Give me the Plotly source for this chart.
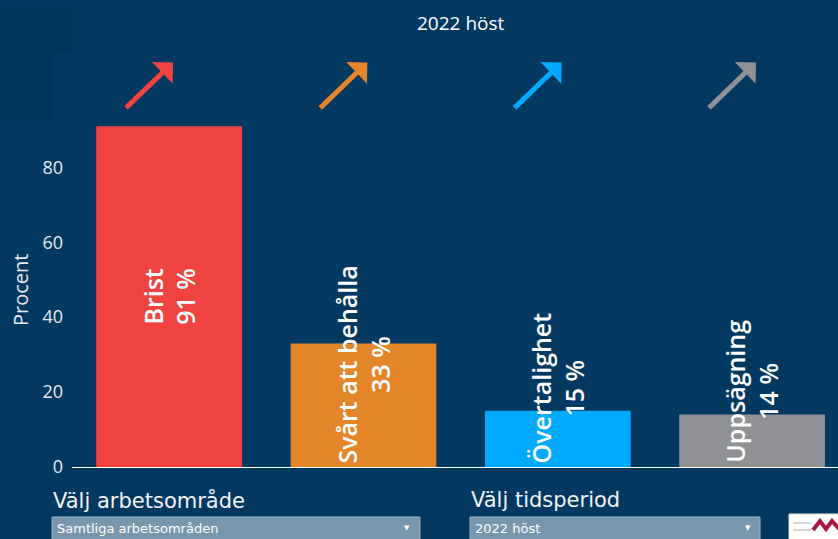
import plotly.graph_objects as go

categories = ["Brist", "Svårt att behålla", "Övertalighet", "Uppsägning"]
values = [91, 33, 15, 14]
value_labels = ["91 %", "33 %", "15 %", "14 %"]
colors = ["#EE4340", "#E5852A", "#00AAFF", "#8F9194"]
y_ticks = [0, 20, 40, 60, 80]
y_title = "Procent"
period = "2022 höst"
area_label = "Välj arbetsområde"
area_value = "Samtliga arbetsområden"
period_label = "Välj tidsperiod"

BG = "#033861"
W, H = 838, 539
ML, MR, MT, MB = 72, 0, 55, 72
x = list(range(len(categories)))

PW, PH = W - ML - MR, H - MT - MB
def px(xp):
    return (xp - ML) / PW
def py(yp):
    return (H - MB - yp) / PH

fig = go.Figure()
fig.add_trace(go.Bar(x=x, y=values, marker=dict(color=colors, line=dict(width=0)),
                     width=0.75, hoverinfo="skip", showlegend=False))

lab_font = dict(family="Open Sans", size=25, color="white", weight=600)
anns = []
for i, (c, v, lab) in enumerate(zip(categories, values, value_labels)):
    txt = f"{c}<br>{lab}"
    if v > 60:
        anns.append(dict(x=i, y=v / 2, xref="x", yref="y", text=txt, showarrow=False,
                         textangle=-90, yanchor="middle", xanchor="center", font=lab_font))
    else:
        anns.append(dict(x=i, y=0.5, xref="x", yref="y", text=txt, showarrow=False,
                         textangle=-90, yanchor="bottom", xanchor="center", font=lab_font))
    # trend arrow
    anns.append(dict(x=i + 0.02, y=108, ax=i - 0.23, ay=95.5, xref="x", yref="y",
                     axref="x", ayref="y", text="", showarrow=True,
                     arrowhead=1, arrowsize=1, arrowwidth=5, arrowcolor=colors[i]))

# title
anns.append(dict(x=px(461), y=py(23), xref="paper", yref="paper", text=period,
                 showarrow=False, xanchor="center", yanchor="middle",
                 font=dict(family="Open Sans", size=19, color="white")))

# y-axis title
anns.append(dict(x=px(20), y=py(290), xref="paper", yref="paper", text=y_title,
                 showarrow=False, xanchor="center", yanchor="middle", textangle=-90,
                 font=dict(family="Open Sans", size=20, color="#E6E9EE")))

wfont = "DejaVu Sans"
anns.append(dict(x=px(51), y=py(500), xref="paper", yref="paper", text=area_label,
                 showarrow=False, xanchor="left", yanchor="middle",
                 font=dict(family=wfont, size=21, color="#F2F4F7")))
anns.append(dict(x=px(469), y=py(500), xref="paper", yref="paper", text=period_label,
                 showarrow=False, xanchor="left", yanchor="middle",
                 font=dict(family=wfont, size=21, color="#F2F4F7")))
anns.append(dict(x=px(55), y=py(528.5), xref="paper", yref="paper", text=area_value,
                 showarrow=False, xanchor="left", yanchor="middle",
                 font=dict(family=wfont, size=13, color="white")))
anns.append(dict(x=px(473), y=py(528.5), xref="paper", yref="paper", text=period,
                 showarrow=False, xanchor="left", yanchor="middle",
                 font=dict(family=wfont, size=13, color="white")))
for xa in (407, 748):
    anns.append(dict(x=px(xa), y=py(528), xref="paper", yref="paper", text="▼",
                     showarrow=False, xanchor="center", yanchor="middle",
                     font=dict(family="DejaVu Sans", size=7, color="white")))

fig.update_layout(
    width=W, height=H,
    margin=dict(l=ML, r=MR, t=MT, b=MB),
    paper_bgcolor=BG, plot_bgcolor=BG,
    xaxis=dict(range=[-0.5, 3.442], showticklabels=False, showgrid=False, zeroline=False,
               showline=True, linecolor="white", linewidth=1, ticks=""),
    yaxis=dict(range=[0, 110], tickvals=y_ticks, showgrid=False, zeroline=False,
               showline=False, ticks="", ticklabelstandoff=8,
               tickfont=dict(family="Open Sans", size=18, color="#E6E9EE")),
    showlegend=False,
)

shapes = [
    # subtle darker block top-left
    dict(type="rect", xref="paper", yref="paper", x0=px(0), x1=px(72), y0=py(52), y1=py(8),
         fillcolor="#02355C", line=dict(width=0), layer="below"),
    dict(type="rect", xref="paper", yref="paper", x0=px(0), x1=px(52), y0=py(120), y1=py(52),
         fillcolor="#02355C", line=dict(width=0), layer="below"),
    # dropdown boxes
    dict(type="rect", xref="paper", yref="paper", x0=px(52), x1=px(420), y0=py(545), y1=py(517),
         fillcolor="#7896AC", line=dict(color="#9AB0C2", width=1)),
    dict(type="rect", xref="paper", yref="paper", x0=px(470), x1=px(760), y0=py(545), y1=py(517),
         fillcolor="#7896AC", line=dict(color="#9AB0C2", width=1)),
    # logo box
    dict(type="rect", xref="paper", yref="paper", x0=px(789), x1=px(845), y0=py(548), y1=py(514),
         fillcolor="white", line=dict(color="#E4E4E4", width=1)),
    dict(type="line", xref="paper", yref="paper", x0=px(793), x1=px(811), y0=py(523), y1=py(523),
         line=dict(color="#C8C8C8", width=1.5)),
    dict(type="line", xref="paper", yref="paper", x0=px(793), x1=px(811), y0=py(530), y1=py(530),
         line=dict(color="#C8C8C8", width=1.5)),
    dict(type="path", xref="paper", yref="paper",
         path=f"M {px(813)},{py(530)} L {px(820)},{py(521)} L {px(826)},{py(529)} L {px(832)},{py(521)} L {px(840)},{py(530)}",
         line=dict(color="#A8173F", width=4)),
]

fig.update_layout(annotations=anns, shapes=shapes)
fig.write_html("out.html", config={"displayModeBar": False},
               post_script="document.body.style.margin='0';document.body.style.overflow='hidden';")
